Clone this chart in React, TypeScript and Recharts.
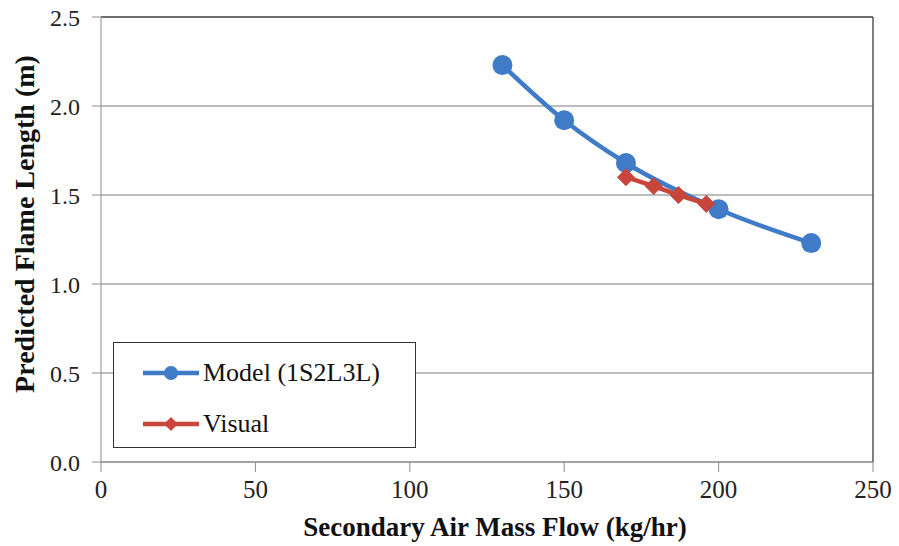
import { LineChart, Line, XAxis, YAxis, CartesianGrid, ReferenceLine } from 'recharts';

// Model predictions (1S2L3L)
const modelFlow = [130, 150, 170, 200, 230];
const modelLength = [2.23, 1.92, 1.68, 1.42, 1.23];

// Visually observed flame lengths
const visualFlow = [170, 179, 187, 196];
const visualLength = [1.6, 1.55, 1.5, 1.45];

const xTicks = [0, 50, 100, 150, 200, 250];
const yTicks = [0, 0.5, 1.0, 1.5, 2.0, 2.5];

const modelData = modelFlow.map((flow, i) => ({ flow, length: modelLength[i] }));
const visualData = visualFlow.map((flow, i) => ({ flow, length: visualLength[i] }));

const BLUE = '#3f7bc6';
const RED = '#c8453c';
const FONT = '"Liberation Serif", "Times New Roman", serif';

const Diamond = (props: any) => {
  const { cx, cy } = props;
  if (cx == null || cy == null) return null;
  const r = 8.5;
  return (
    <path
      d={`M${cx},${cy - r} L${cx + r},${cy} L${cx},${cy + r} L${cx - r},${cy} Z`}
      fill={RED}
      stroke={RED}
    />
  );
};

// Axis titles drawn by hand so they can sit where Excel puts them
const XTitle = (props: any) => {
  const { viewBox } = props;
  const cx = viewBox.x + viewBox.width / 2 + 8;
  return (
    <text x={cx} y={536} textAnchor="middle" fill="#111" fontFamily={FONT} fontSize={27} fontWeight="bold">
      Secondary Air Mass Flow (kg/hr)
    </text>
  );
};

const YTitle = () => (
  <text
    x={24}
    y={224}
    transform="rotate(-90 24 224)"
    textAnchor="middle"
    dominantBaseline="central"
    fill="#111"
    fontFamily={FONT}
    fontSize={28}
    fontWeight="bold"
  >
    Predicted Flame Length (m)
  </text>
);

// Boxed legend sitting in the lower-left corner of the plot
const LegendBox = () => (
  <div
    style={{
      position: 'absolute',
      left: 113,
      top: 342,
      width: 303,
      height: 106,
      border: '1.5px solid #333',
      background: '#fff',
      fontFamily: FONT,
      fontSize: 26,
      color: '#111',
      boxSizing: 'border-box',
    }}
  >
    <div style={{ display: 'flex', alignItems: 'center', height: 30, marginTop: 15 }}>
      <svg width={56} height={22} style={{ marginLeft: 29 }}>
        <line x1={0} y1={11} x2={56} y2={11} stroke={BLUE} strokeWidth={4.5} />
        <circle cx={28} cy={11} r={7} fill={BLUE} />
      </svg>
      <span style={{ marginLeft: 4 }}>Model (1S2L3L)</span>
    </div>
    <div style={{ display: 'flex', alignItems: 'center', height: 30, marginTop: 21 }}>
      <svg width={56} height={22} style={{ marginLeft: 29 }}>
        <line x1={0} y1={11} x2={56} y2={11} stroke={RED} strokeWidth={4.5} />
        <path d="M28,4 L35,11 L28,18 L21,11 Z" fill={RED} />
      </svg>
      <span style={{ marginLeft: 4 }}>Visual</span>
    </div>
  </div>
);

const FlameLengthChart = () => {
  return (
    <div style={{ position: 'absolute', left: 0, top: 0, width: 899, height: 546, background: '#fff' }}>
      <LineChart
        width={899}
        height={546}
        margin={{ top: 17, right: 26, left: 0, bottom: 0 }}
      >
        <CartesianGrid vertical={false} stroke="#a6a6a6" strokeWidth={1.5} />
        <XAxis
          type="number"
          dataKey="flow"
          domain={[0, 250]}
          ticks={xTicks}
          height={84}
          stroke="#8c8c8c"
          tickSize={10}
          tick={{ fill: '#222', fontFamily: FONT, fontSize: 25, dy: 6 }}
          label={<XTitle />}
        />
        <YAxis
          type="number"
          dataKey="length"
          domain={[0, 2.5]}
          ticks={yTicks}
          width={101}
          stroke="#8c8c8c"
          tickSize={9}
          tickFormatter={(v: number) => v.toFixed(1)}
          tick={{ fill: '#222', fontFamily: FONT, fontSize: 24, dx: -10 }}
          label={<YTitle />}
        />
        <ReferenceLine x={250} stroke="#555" strokeWidth={1.5} />
        <ReferenceLine y={2.5} stroke="#555" strokeWidth={1.5} />
        <Line
          data={modelData}
          dataKey="length"
          name="Model (1S2L3L)"
          type="monotone"
          stroke={BLUE}
          strokeWidth={4.5}
          dot={{ r: 10, fill: BLUE, stroke: BLUE, strokeWidth: 0 }}
          isAnimationActive={false}
        />
        <Line
          data={visualData}
          dataKey="length"
          name="Visual"
          type="linear"
          stroke={RED}
          strokeWidth={4.5}
          dot={<Diamond />}
          isAnimationActive={false}
        />
      </LineChart>
      <LegendBox />
    </div>
  );
};

export default function App() {
  return <FlameLengthChart />;
}
